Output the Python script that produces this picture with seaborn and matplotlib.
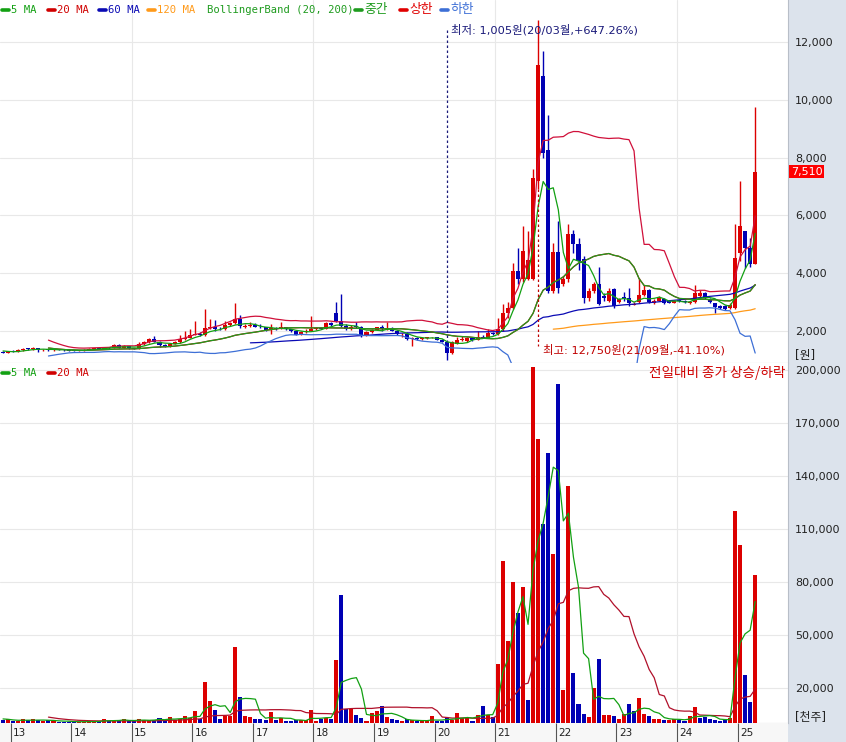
import numpy as np
import pandas as pd
import matplotlib
matplotlib.use('Agg')
import matplotlib.pyplot as plt
import matplotlib.transforms as mtransforms
from matplotlib.lines import Line2D
import seaborn as sns

# ── data: monthly candles, Nov 2012 – Apr 2025 ───────────────
# ten earlier months only feed the moving averages / bands
pre_close = [1750, 1680, 1620, 1560, 1480, 1420, 1380, 1330, 1300, 1270]
pre_volume = [10000, 9000, 7000, 6000, 5000, 4000, 3000, 3000, 2000, 2000]

opens = [1270, 1250,
         1300, 1280, 1330, 1380, 1370, 1410, 1330, 1350, 1340, 1360, 1350, 1340,
         1320, 1310, 1325, 1350, 1380, 1400, 1390, 1425, 1410, 1520, 1420, 1470,
         1400, 1380, 1560, 1600, 1720, 1620, 1500, 1450, 1560, 1600, 1720, 1760,
         1870, 1900, 1850, 2110, 2150, 2060, 2050, 2220, 2280, 2410, 2150, 2180,
         2200, 2140, 2120, 2020, 2100, 2080, 2120, 2060, 1980, 1870, 1950, 2000,
         2060, 2100, 2080, 2270, 2620, 2340, 2170, 2050, 2150, 2130, 1860, 1950,
         2040, 2130, 2050, 2090, 2000, 1880, 1900, 1720, 1760, 1720, 1750, 1780,
         1790, 1690, 1610, 1230, 1550, 1690, 1650, 1750, 1680, 1780, 1760, 1920,
         1880, 2050, 2620, 2800, 4080, 3800, 3800, 3800, 7200, 10840, 8250, 3390,
         4740, 3630, 3800, 5360, 5010, 4500, 3140, 3390, 3630, 3200, 3040, 3460,
         3000, 3180, 3150, 2900, 3000, 3250, 3400, 2950, 3050, 3100, 3050, 2980,
         3080, 3020, 2950, 3000, 3200, 3320, 3100, 2950, 2870, 2850, 2800, 2800,
         4700, 5470, 4880, 4320]
highs = [1300, 1320,
         1340, 1360, 1420, 1410, 1440, 1420, 1370, 1370, 1380, 1380, 1370, 1360,
         1340, 1340, 1370, 1400, 1420, 1430, 1450, 1460, 1560, 1550, 1500, 1490,
         1420, 1600, 1640, 1760, 1830, 1660, 1540, 1590, 1640, 1850, 2000, 2050,
         2340, 1960, 2760, 2400, 2380, 2150, 2350, 2300, 2970, 2550, 2250, 2300,
         2260, 2250, 2150, 2250, 2150, 2300, 2150, 2080, 2000, 1980, 2050, 2520,
         2150, 2130, 2300, 2300, 3000, 3280, 2250, 2200, 2300, 2160, 1980, 2060,
         2150, 2200, 2300, 2120, 2020, 1920, 1950, 1790, 1780, 1770, 1800, 1800,
         1800, 1710, 1650, 1650, 1800, 1810, 1780, 1760, 2000, 1850, 2050, 1950,
         2450, 2930, 3000, 4360, 4880, 5640, 5470, 7600, 12750, 11700, 9460, 5050,
         5800, 3900, 5700, 5500, 5200, 4600, 3500, 3700, 4220, 3300, 3500, 3500,
         3150, 3350, 3500, 3000, 3830, 3600, 3450, 3100, 3200, 3150, 3080, 3080,
         3120, 3060, 3050, 3600, 3400, 3350, 3130, 2980, 2900, 2880, 2950, 5700,
         7200, 5470, 5200, 9770]
lows = [1230, 1240,
        1260, 1270, 1310, 1340, 1350, 1280, 1310, 1320, 1320, 1330, 1320, 1300,
        1290, 1290, 1310, 1330, 1360, 1370, 1370, 1390, 1400, 1400, 1400, 1380,
        1360, 1370, 1520, 1580, 1600, 1460, 1440, 1430, 1530, 1580, 1700, 1740,
        1850, 1820, 1830, 2050, 2010, 2020, 2030, 2180, 2250, 2100, 2100, 2150,
        2120, 2100, 1990, 1900, 2040, 2050, 2040, 1960, 1850, 1850, 1920, 1980,
        2030, 2050, 2060, 2180, 2300, 2150, 2030, 2030, 2100, 1800, 1840, 1930,
        2020, 1980, 2030, 1990, 1870, 1780, 1680, 1480, 1700, 1700, 1730, 1740,
        1680, 1600, 1005, 1200, 1530, 1650, 1630, 1660, 1670, 1740, 1740, 1860,
        1850, 2000, 2450, 2750, 3630, 3700, 3750, 3750, 6900, 8000, 3300, 3300,
        3300, 3550, 3700, 4700, 4100, 2980, 3050, 3300, 2900, 3050, 3000, 2800,
        2950, 3050, 2850, 2880, 2950, 3200, 2950, 2920, 3020, 2920, 2950, 2960,
        3000, 2970, 2920, 2980, 3180, 3120, 2980, 2620, 2750, 2740, 2750, 2750,
        4420, 4190, 4200, 4300]
closes = [1250, 1300,
          1280, 1330, 1380, 1370, 1410, 1330, 1350, 1340, 1360, 1350, 1340, 1320,
          1310, 1325, 1350, 1380, 1400, 1390, 1425, 1410, 1520, 1420, 1470, 1400,
          1380, 1560, 1600, 1720, 1620, 1500, 1450, 1560, 1600, 1720, 1760, 1870,
          1900, 1850, 2110, 2150, 2060, 2050, 2220, 2280, 2410, 2170, 2180, 2200,
          2140, 2120, 2020, 2100, 2080, 2120, 2060, 1980, 1870, 1950, 2000, 2060,
          2100, 2080, 2270, 2200, 2340, 2170, 2050, 2150, 2130, 1860, 1950, 2040,
          2130, 2050, 2090, 2000, 1880, 1890, 1720, 1760, 1720, 1750, 1780, 1790,
          1690, 1620, 1230, 1610, 1690, 1700, 1750, 1680, 1780, 1760, 1920, 1880,
          2050, 2620, 2800, 4080, 3800, 4770, 4450, 7300, 11200, 8150, 3390, 4740,
          3490, 3800, 5360, 5010, 4420, 3140, 3390, 3630, 2930, 3150, 3390, 2870,
          3100, 3120, 2950, 2940, 3250, 3400, 3000, 3050, 3150, 2950, 2980, 3050,
          3020, 2990, 3000, 3320, 3300, 3150, 3000, 2820, 2780, 2760, 2900, 4530,
          5640, 4880, 4320, 7510]
# volume in thousand shares (천주)
volumes = [1500, 2000,
           1200, 1000, 2000, 1800, 2000, 1500, 1000, 1600, 1200, 800, 800, 700,
           600, 700, 800, 1000, 900, 800, 2400, 1200, 1500, 1300, 2300, 1000,
           900, 2500, 1500, 1800, 1600, 3000, 1500, 3200, 1800, 2500, 4000, 3000,
           6600, 2500, 23500, 12200, 7100, 2000, 4100, 4100, 43000, 14500, 4000, 3500,
           2400, 2300, 1500, 6000, 1800, 3000, 1200, 1200, 1500, 1500, 1500, 7500,
           1000, 2000, 3000, 2000, 35400, 72600, 8000, 8000, 4400, 3000, 1000, 5400,
           7000, 9400, 3500, 2000, 1500, 1200, 2000, 1500, 1200, 1000, 1000, 4000,
           1000, 1300, 2800, 1500, 5500, 2800, 3000, 1300, 4700, 9400, 4700, 3500,
           33600, 91900, 46600, 80000, 62200, 77300, 13200, 201900, 161000, 112800, 153000, 95800,
           192000, 18800, 134500, 28300, 10900, 5300, 3200, 19600, 36400, 4700, 4700, 4200,
           2000, 5300, 10900, 6600, 14100, 5100, 3800, 2000, 2500, 1900, 1700, 2500,
           1700, 1300, 3800, 8900, 2800, 3200, 2200, 1500, 1300, 1600, 2800, 120000,
           101000, 27000, 12000, 84000]

year_labels = ['13', '14', '15', '16', '17', '18', '19', '20', '21', '22', '23', '24', '25']
grid_years = ['15', '18', '21', '24']
price_ticks = [2000, 4000, 6000, 8000, 10000, 12000]
volume_ticks = [20000, 50000, 80000, 110000, 140000, 170000, 200000]

# ── colours ──────────────────────────────────────────────────
UP, DOWN = '#dc0000', '#0000b4'
C_MA5, C_MA20, C_MA60, C_MA120 = '#12a012', '#d00000', '#0a0ab4', '#ff9a1a'
C_MID, C_UPPER, C_LOWER = '#1e9b1e', '#d0103a', '#3d6fd6'
PANEL = '#dce3ec'
GRID = '#e8e8e8'

# ── derived series ───────────────────────────────────────────
n_pre = len(pre_close)
n = len(closes)
close_all = pd.Series(pre_close + closes, dtype=float)
vol_all = pd.Series(pre_volume + volumes, dtype=float)
idx_all = np.arange(-n_pre, n)

df = pd.DataFrame({'idx': idx_all, 'close': close_all, 'vol': vol_all})
df['ma5'] = close_all.rolling(5).mean()
df['ma20'] = close_all.rolling(20).mean()
df['ma60'] = close_all.rolling(60).mean()
df['ma120'] = close_all.rolling(120).mean()
sd20 = close_all.rolling(20).std(ddof=0)
df['upper'] = df['ma20'] + 2 * sd20
df['lower'] = df['ma20'] - 2 * sd20
df['vma5'] = vol_all.rolling(5).mean()
df['vma20'] = vol_all.rolling(20).mean()
df['vup'] = close_all.diff() >= 0
main = df[df['idx'] >= 0].reset_index(drop=True)

o = np.array(opens, float); h = np.array(highs, float)
l = np.array(lows, float); c = np.array(closes, float)
x = np.arange(n)
cand_col = np.where(c >= o, UP, DOWN)
vol_col = np.where(main['vup'], UP, DOWN)

# ── figure / axes in pixel layout ────────────────────────────
W, H = 846, 742
sns.set_style('white')
plt.rcParams['font.family'] = ['DejaVu Sans', 'Noto Sans CJK KR']
fig = plt.figure(figsize=(W / 100, H / 100), dpi=100, facecolor=PANEL)

def fr(px_l, px_t, px_w, px_h):
    return [px_l / W, 1 - (px_t + px_h) / H, px_w / W, px_h / H]

PLOT_W = 788
ax_p = fig.add_axes(fr(0, 0, PLOT_W, 363))
ax_v = fig.add_axes(fr(0, 363, PLOT_W, 360))
ax_x = fig.add_axes(fr(0, 723, PLOT_W, 19))

x_lo, x_hi = -0.6, 155.5
year_start = {y: 1.5 + 12 * k for k, y in enumerate(year_labels)}

for ax in (ax_p, ax_v):
    ax.set_facecolor('white')
    ax.set_xlim(x_lo, x_hi)
    ax.set_xticks([])
    for yv in ([year_start[g] for g in grid_years]):
        ax.axvline(yv, color=GRID, lw=0.8, zorder=0)
    for s in ax.spines.values():
        s.set_color('#b8bec8'); s.set_linewidth(0.8)
    ax.spines['left'].set_visible(False)
    ax.spines['top'].set_visible(False)
    ax.yaxis.tick_right()
    ax.tick_params(axis='y', length=0, pad=5, labelsize=8, labelcolor='#222222')

# ── price panel ──────────────────────────────────────────────
ax_p.set_ylim(889, 13458)
ax_p.set_yticks(price_ticks)
ax_p.set_yticklabels([f'{t:,}' for t in price_ticks])
for t in price_ticks:
    ax_p.axhline(t, color=GRID, lw=0.8, zorder=0)

body_lo = np.minimum(o, c)
body_h = np.maximum(np.abs(c - o), 25)
ax_p.vlines(x, l, h, colors=cand_col, lw=1.0, zorder=2)
ax_p.bar(x, body_h, bottom=body_lo, width=0.8, color=cand_col, linewidth=0, zorder=3)

line_specs = [('ma120', C_MA120), ('ma60', C_MA60), ('lower', C_LOWER),
              ('upper', C_UPPER), ('ma20', C_MA20), ('ma5', C_MA5), ('ma20', C_MID)]
for col, colr in line_specs:
    d = main.dropna(subset=[col])
    sns.lineplot(data=d, x='idx', y=col, ax=ax_p, color=colr, lw=0.9,
                 estimator=None, sort=False, zorder=4)
ax_p.set_xlabel(''); ax_p.set_ylabel('')

# low / high markers
i_low = int(np.argmin(l)); i_high = int(np.argmax(h))
last = c[-1]
ax_p.plot([i_low, i_low], [12420, h[i_low]], color='#1a1a7a', lw=0.9, ls=(0, (2, 2)), zorder=5)
ax_p.text(i_low + 0.7, 12430, f'최저: {l[i_low]:,.0f}원(20/03월,+{(last / l[i_low] - 1) * 100:.2f}%)',
          color='#1a1a7a', fontsize=8.2, va='center', ha='left',
          family=['DejaVu Sans', 'Noto Sans CJK KR'], zorder=6)
ax_p.plot([i_high, i_high], [l[i_high], 1470], color='#c00000', lw=0.9, ls=(0, (2, 2)), zorder=5)
ax_p.text(i_high + 1.0, 1340, f'최고: {h[i_high]:,.0f}원(21/09월,{(last / h[i_high] - 1) * 100:.2f}%)',
          color='#c00000', fontsize=8.2, va='center', ha='left',
          family=['DejaVu Sans', 'Noto Sans CJK KR'], zorder=6)

# current price tag
tr = mtransforms.blended_transform_factory(fig.transFigure, ax_p.transData)
fig.text(791 / W, last, f'{last:,.0f}', transform=tr, color='white', fontsize=8,
         va='center', ha='left',
         bbox=dict(boxstyle='square,pad=0.15', fc='#ff0000', ec='none'))

# ── volume panel ─────────────────────────────────────────────
ax_v.set_ylim(0, 203900)
ax_v.set_yticks(volume_ticks)
ax_v.set_yticklabels([f'{t:,}' for t in volume_ticks])
for t in volume_ticks:
    ax_v.axhline(t, color=GRID, lw=0.8, zorder=0)
ax_v.bar(x, volumes, width=0.8, color=vol_col, linewidth=0, zorder=3)
for col, colr in [('vma20', '#b0102a'), ('vma5', C_MA5)]:
    d = main.dropna(subset=[col])
    sns.lineplot(data=d, x='idx', y=col, ax=ax_v, color=colr, lw=0.9,
                 estimator=None, sort=False, zorder=4)
ax_v.set_xlabel(''); ax_v.set_ylabel('')

# ── bottom year strip ────────────────────────────────────────
ax_x.set_facecolor('#f7f7f7')
ax_x.set_xlim(x_lo, x_hi); ax_x.set_ylim(0, 1)
ax_x.set_xticks([]); ax_x.set_yticks([])
for s in ax_x.spines.values():
    s.set_visible(False)
for yl, xs in year_start.items():
    ax_x.vlines(xs, 0, 1, color='#555555', lw=0.8)
    ax_x.text(xs + 0.5, 0.45, yl, fontsize=7.5, color='#222222', va='center', ha='left')

# ── legends & unit labels (pixel positions) ──────────────────
KFONT = ['DejaVu Sans Mono', 'Noto Sans CJK KR']

def legend_item(px, py, label, color, dash=True, size=7.6):
    if dash:
        fig.add_artist(Line2D([px / W, (px + 7) / W], [1 - py / H, 1 - py / H],
                              color=color, lw=2.6, transform=fig.transFigure))
        px += 9
    fig.text(px / W, 1 - py / H, label, color=color, fontsize=size, va='center',
             ha='left', family=KFONT)

legend_item(2, 10, '5 MA', C_MA5)
legend_item(48, 10, '20 MA', C_MA20)
legend_item(99, 10, '60 MA', C_MA60)
legend_item(148, 10, '120 MA', C_MA120)
legend_item(207, 10, 'BollingerBand (20, 200)', C_MID, dash=False)
legend_item(355, 10, '중간', C_MID, size=9.2)
legend_item(400, 10, '상한', '#e00000', size=9.2)
legend_item(441, 10, '하한', C_LOWER, size=9.2)

legend_item(2, 373, '5 MA', C_MA5)
legend_item(48, 373, '20 MA', C_MA20)
fig.text(785 / W, 1 - 373 / H, '전일대비 종가 상승/하락', color='#d00000', fontsize=9.8,
         va='center', ha='right', family=['Noto Sans CJK KR', 'DejaVu Sans'])

fig.text(795 / W, 1 - 355 / H, '[원]', fontsize=8.5, color='#222222', va='center',
         family=['DejaVu Sans', 'Noto Sans CJK KR'])
fig.text(795 / W, 1 - 718 / H, '[천주]', fontsize=8.5, color='#222222', va='center',
         family=['DejaVu Sans', 'Noto Sans CJK KR'])

fig.savefig('out.png', dpi=100, facecolor=PANEL)
